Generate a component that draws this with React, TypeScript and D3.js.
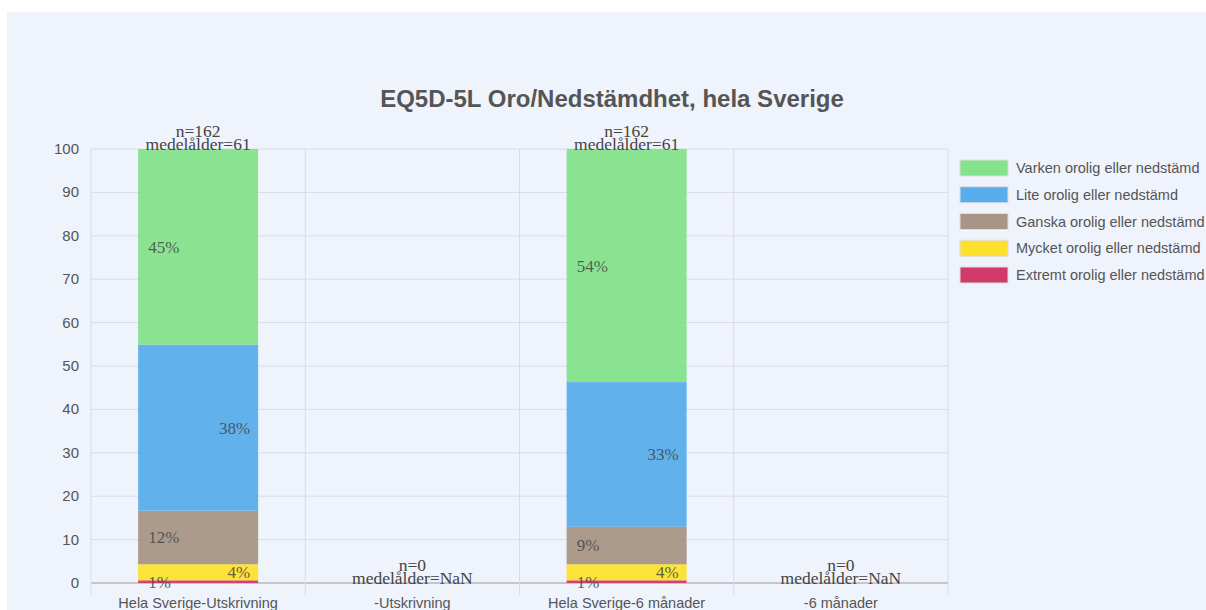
import React from 'react';
import * as d3 from 'd3';

const categories = ['Hela Sverige-Utskrivning', '-Utskrivning', 'Hela Sverige-6 månader', '-6 månader'];
const levels = [
  'Extremt orolig eller nedstämd',
  'Mycket orolig eller nedstämd',
  'Ganska orolig eller nedstämd',
  'Lite orolig eller nedstämd',
  'Varken orolig eller nedstämd',
];
const colors = ['#d23a6a', '#fde02c', '#a89585', '#58adec', '#84e28b'];
// counts per level (extremt..varken) for each category
const counts = [
  [1, 6, 20, 62, 73],
  [0, 0, 0, 0, 0],
  [1, 6, 14, 54, 87],
  [0, 0, 0, 0, 0],
];
const ages = ['61', 'NaN', '61', 'NaN'];
const yTicks = [0, 10, 20, 30, 40, 50, 60, 70, 80, 90, 100];

const W = 1206, H = 610;
const left = 91, right = 948, top = 149, bottom = 583;

export default function App() {
  const x = d3.scaleBand().domain(categories).range([left, right]).paddingInner(0).paddingOuter(0);
  const y = d3.scaleLinear().domain([0, 100]).range([bottom, top]);
  const barW = 120;

  const rows = counts.map((c, i) => {
    const n = d3.sum(c);
    const obj: any = { cat: categories[i], n };
    levels.forEach((l, j) => { obj[l] = n ? (c[j] / n) * 100 : 0; });
    return obj;
  });
  const stacked = d3.stack().keys(levels)(rows);

  return (
    <svg width={W} height={H} style={{ position: 'absolute', left: 0, top: 0 }}>
      <rect x={0} y={0} width={W} height={H} fill="#fff" />
      <rect x={7} y={12} width={W - 7} height={H - 12} fill="#eff3fc" />
      <text x={612} y={107} textAnchor="middle" fontFamily="Liberation Sans" fontWeight="bold" fontSize={24} fill="#555">
        EQ5D-5L Oro/Nedstämdhet, hela Sverige
      </text>
      {/* grid */}
      {yTicks.map(t => (
        <g key={t}>
          <line x1={left} x2={right} y1={y(t)} y2={y(t)} stroke={t === 0 ? '#999' : '#d9dce6'} strokeWidth={1} />
          <text x={79} y={y(t) + 5} textAnchor="end" fontFamily="Liberation Sans" fontSize={15} fill="#555">{t}</text>
        </g>
      ))}
      {[...categories.map(c => x(c) as number), right].map((v, i) => (
        <line key={i} x1={v} x2={v} y1={top} y2={bottom + 12} stroke="#d9dce6" />
      ))}
      {/* bars */}
      {stacked.map((s, j) => (
        <g key={s.key} fill={colors[j]}>
          {s.map((d, i) => {
            const cx = (x(categories[i]) as number) + x.bandwidth() / 2;
            const h = y(d[0]) - y(d[1]);
            if (h <= 0) return null;
            return <rect key={i} x={cx - barW / 2} y={y(d[1])} width={barW} height={h} fillOpacity={0.95} />;
          })}
        </g>
      ))}
      {/* percent labels */}
      {stacked.map((s, j) => (
        <g key={'l' + s.key}>
          {s.map((d, i) => {
            const v = d[1] - d[0];
            if (v <= 0) return null;
            const cx = (x(categories[i]) as number) + x.bandwidth() / 2;
            const leftSide = j % 2 === 0;
            const my = (y(d[0]) + y(d[1])) / 2;
            return (
              <text key={i} x={leftSide ? cx - barW / 2 + 10 : cx + barW / 2 - 8} y={my + 6}
                textAnchor={leftSide ? 'start' : 'end'} fontFamily="Liberation Serif" fontSize={17} fill="#444" fillOpacity={0.85}>
                {Math.round(v) + '%'}
              </text>
            );
          })}
        </g>
      ))}
      {/* n / age annotations */}
      {rows.map((r, i) => {
        const cx = (x(categories[i]) as number) + x.bandwidth() / 2;
        const ty = y(r.n ? 100 : 0);
        return (
          <g key={'a' + i} fontFamily="Liberation Serif" fontSize={17.5} fill="#444" textAnchor="middle">
            <text x={cx} y={ty - 12}>{'n=' + r.n}</text>
            <text x={cx} y={ty + 1}>{'medelålder=' + ages[i]}</text>
          </g>
        );
      })}
      {/* x labels */}
      {categories.map(c => (
        <text key={c} x={(x(c) as number) + x.bandwidth() / 2} y={608} textAnchor="middle" fontFamily="Liberation Sans" fontSize={14.5} fill="#555">{c}</text>
      ))}
      {/* legend */}
      {levels.slice().reverse().map((l, k) => {
        const j = levels.length - 1 - k;
        const ly = 160 + k * 26.75;
        return (
          <g key={l}>
            <rect x={960} y={ly} width={48} height={16} fill={colors[j]} stroke="#ddd" />
            <text x={1016} y={ly + 13} fontFamily="Liberation Sans" fontSize={14.5} fill="#555">{l}</text>
          </g>
        );
      })}
    </svg>
  );
}
